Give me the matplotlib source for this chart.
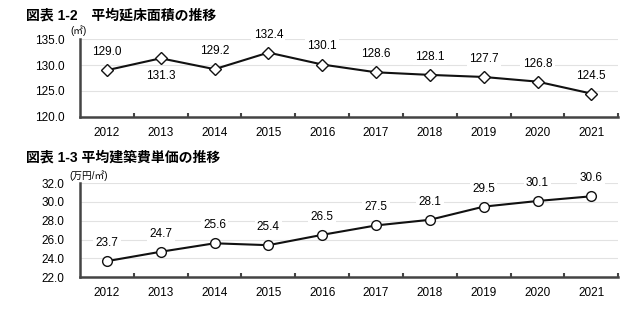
import numpy as np
import matplotlib
matplotlib.use("Agg")
import matplotlib.pyplot as plt

plt.rcParams['font.family'] = ['Liberation Sans', 'Noto Sans CJK JP', 'DejaVu Sans']

years = ['2012', '2013', '2014', '2015', '2016', '2017', '2018', '2019', '2020', '2021']
floor_area = [129.0, 131.3, 129.2, 132.4, 130.1, 128.6, 128.1, 127.7, 126.8, 124.5]
unit_cost = [23.7, 24.7, 25.6, 25.4, 26.5, 27.5, 28.1, 29.5, 30.1, 30.6]
# label placement: 1 = above the point, -1 = below
area_pos = [1, -1, 1, 1, 1, 1, 1, 1, 1, 1]

x = np.arange(len(years))

fig = plt.figure(figsize=(6.4, 3.23), dpi=100)


def style_axes(ax, ymin, ymax, step):
    ax.set_xlim(-0.5, len(years) - 0.5)
    ax.set_ylim(ymin, ymax)
    ticks = np.arange(ymin, ymax + step / 2, step)
    ax.set_yticks(ticks)
    ax.set_yticklabels(['%.1f' % t for t in ticks], fontsize=8.5)
    ax.set_xticks(x)
    ax.set_xticklabels(years, fontsize=8.5)
    ax.set_xticks(np.arange(0.5, len(years), 1.0), minor=True)
    ax.tick_params(axis='x', which='major', length=0, pad=7)
    ax.tick_params(axis='x', which='minor', length=3, direction='in', color='#444444', width=1.5)
    ax.tick_params(axis='y', length=0, pad=11)
    for t in ticks[1:]:
        ax.axhline(t, color='#e2e2e2', lw=0.8, zorder=0)
    for s in ['top', 'right']:
        ax.spines[s].set_visible(False)
    for s in ['left', 'bottom']:
        ax.spines[s].set_color('#444444')
        ax.spines[s].set_linewidth(1.8)


# top chart: floor area
ax1 = fig.add_axes([0.125, 0.638, 0.841, 0.241])
style_axes(ax1, 120.0, 135.0, 5.0)
ax1.plot(x, floor_area, color='#111111', lw=1.5, marker='D', markersize=6,
         markerfacecolor='white', markeredgecolor='#111111', markeredgewidth=1.0, zorder=3)
for xi, v, p in zip(x, floor_area, area_pos):
    ax1.annotate('%.1f' % v, (xi, v), xytext=(0, 13 * p), textcoords='offset points',
                 ha='center', va='center', fontsize=8.5,
                 bbox=dict(boxstyle='square,pad=0.2', fc='white', ec='none'))
fig.text(0.04, 0.952, '図表 1-2　平均延床面積の推移', fontsize=10, fontweight='bold', va='center')
fig.text(0.11, 0.906, '(㎡)', fontsize=7, va='center', ha='left')

# bottom chart: unit cost
ax2 = fig.add_axes([0.125, 0.142, 0.841, 0.291])
style_axes(ax2, 22.0, 32.0, 2.0)
ax2.plot(x, unit_cost, color='#111111', lw=1.5, marker='o', markersize=7,
         markerfacecolor='white', markeredgecolor='#111111', markeredgewidth=1.0, zorder=3)
for xi, v in zip(x, unit_cost):
    ax2.annotate('%.1f' % v, (xi, v), xytext=(0, 13), textcoords='offset points',
                 ha='center', va='center', fontsize=8.5,
                 bbox=dict(boxstyle='square,pad=0.2', fc='white', ec='none'))
fig.text(0.04, 0.513, '図表 1-3 平均建築費単価の推移', fontsize=10, fontweight='bold', va='center')
fig.text(0.108, 0.457, '(万円/㎡)', fontsize=7, va='center', ha='left')

fig.savefig('out.png', dpi=100)
